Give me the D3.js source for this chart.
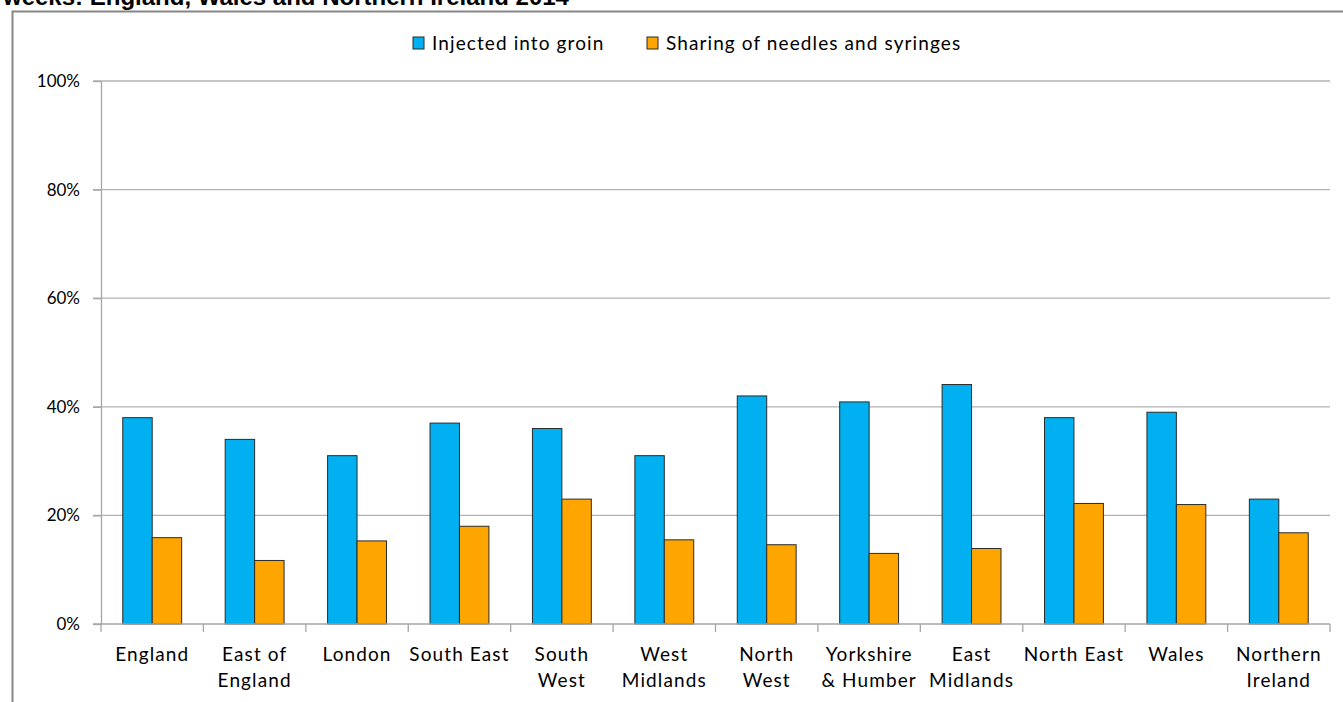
<!DOCTYPE html>
<html>
<head>
<meta charset="utf-8">
<script src="https://cdn.jsdelivr.net/npm/d3@7"></script>
<style>
  html, body { margin: 0; padding: 0; background: #fff; }
  svg { display: block; }
  .tick text { font-family: Lato, "Open Sans", sans-serif; }
</style>
</head>
<body>
<div id="chart"></div>
<script>
// Region names (multi-line labels split with "\n")
const regions = [
  "England", "East of\nEngland", "London", "South East", "South\nWest",
  "West\nMidlands", "North\nWest", "Yorkshire\n& Humber", "East\nMidlands",
  "North East", "Wales", "Northern\nIreland"
];
// Percentages of people who inject drugs
const injectedIntoGroin = [38, 34, 31, 37, 36, 31, 42, 40.9, 44.1, 38, 39, 23];
const sharingNeedles   = [15.9, 11.7, 15.3, 18, 23, 15.5, 14.6, 13, 13.9, 22.2, 22, 16.8];
const seriesNames = ["Injected into groin", "Sharing of needles and syringes"];
const seriesColors = ["#00b0f0", "#ffa500"];
const yTicks = [0, 20, 40, 60, 80, 100];
const titleText = "weeks: England, Wales and Northern Ireland 2014";

const W = 1343, H = 702;
const margin = { left: 101, right: 13, top: 81, bottom: 78 };
const innerW = W - margin.left - margin.right;
const innerH = H - margin.top - margin.bottom;

const labelFont = "Lato, 'Open Sans', sans-serif";

const svg = d3.select("#chart").append("svg")
  .attr("width", W).attr("height", H);

// Title (runs off the top edge) and chart frame
svg.append("text")
  .attr("x", 3).attr("y", 4.5)
  .attr("font-family", "Liberation Sans, Arial, sans-serif")
  .attr("font-weight", "bold").attr("font-size", 24)
  .attr("fill", "#000")
  .text(titleText);

svg.append("rect")
  .attr("x", 12.5).attr("y", 11.5)
  .attr("width", 1340).attr("height", 720)
  .attr("fill", "none").attr("stroke", "#868686").attr("stroke-width", 2);

const g = svg.append("g").attr("transform", `translate(${margin.left},${margin.top})`);

const data = regions.map((r, i) => ({
  region: r,
  values: [injectedIntoGroin[i], sharingNeedles[i]]
}));

const x0 = d3.scaleBand()
  .domain(regions)
  .range([0, innerW])
  .paddingInner(0.425)
  .paddingOuter(0.2125);

const x1 = d3.scaleBand()
  .domain([0, 1])
  .range([0, x0.bandwidth()]);

const y = d3.scaleLinear().domain([0, 100]).range([innerH, 0]);

// Horizontal gridlines
g.append("g")
  .selectAll("line")
  .data(yTicks.filter(t => t > 0))
  .join("line")
  .attr("x1", -8).attr("x2", innerW)
  .attr("y1", d => y(d)).attr("y2", d => y(d))
  .attr("stroke", "#b3b3b3").attr("stroke-width", 1.3);

// Y axis
const yAxis = g.append("g")
  .call(d3.axisLeft(y).tickValues(yTicks).tickFormat(d => d + "%").tickSize(8).tickSizeOuter(0));
yAxis.select(".domain").attr("stroke", "#a6a6a6").attr("stroke-width", 1.3);
yAxis.selectAll(".tick line").attr("stroke", "#a6a6a6").attr("stroke-width", 1.3);
yAxis.selectAll(".tick text")
  .attr("font-size", 17).attr("fill", "#000").attr("x", -21);

// Bars
const groups = g.append("g")
  .selectAll("g")
  .data(data)
  .join("g")
  .attr("transform", d => `translate(${x0(d.region)},0)`);

groups.selectAll("rect")
  .data(d => d.values.map((v, k) => ({ v, k })))
  .join("rect")
  .attr("x", d => x1(d.k))
  .attr("y", d => y(d.v))
  .attr("width", x1.bandwidth())
  .attr("height", d => innerH - y(d.v))
  .attr("fill", d => seriesColors[d.k])
  .attr("stroke", "#2b2b2b").attr("stroke-width", 1);

// X axis with category boundary ticks
const xAxisG = g.append("g").attr("transform", `translate(0,${innerH})`);
xAxisG.append("line")
  .attr("x1", -8).attr("x2", innerW)
  .attr("stroke", "#a6a6a6").attr("stroke-width", 1.3);
const step = x0.step();
const firstEdge = x0(regions[0]) - x0.paddingOuter() * step;
xAxisG.selectAll("line.sep")
  .data(d3.range(regions.length + 1))
  .join("line")
  .attr("class", "sep")
  .attr("x1", i => firstEdge + i * step)
  .attr("x2", i => firstEdge + i * step)
  .attr("y1", 0).attr("y2", 8)
  .attr("stroke", "#a6a6a6").attr("stroke-width", 1.3);

xAxisG.selectAll("text.cat")
  .data(regions)
  .join("text")
  .attr("class", "cat")
  .attr("transform", d => `translate(${x0(d) + x0.bandwidth() / 2},0)`)
  .attr("text-anchor", "middle")
  .attr("font-family", labelFont)
  .attr("font-size", 19)
  .attr("letter-spacing", 1.1)
  .attr("fill", "#000")
  .each(function (d) {
    const lines = d.split("\n");
    d3.select(this).selectAll("tspan")
      .data(lines)
      .join("tspan")
      .attr("x", 0)
      .attr("y", (l, i) => 37 + i * 26)
      .text(l => l);
  });

// Legend
const legendItems = [
  { name: seriesNames[0], color: seriesColors[0], x: 413 },
  { name: seriesNames[1], color: seriesColors[1], x: 647 }
];
const legend = svg.append("g");
legend.selectAll("rect")
  .data(legendItems)
  .join("rect")
  .attr("x", d => d.x).attr("y", 37)
  .attr("width", 11).attr("height", 12)
  .attr("fill", d => d.color)
  .attr("stroke", "#2b2b2b").attr("stroke-width", 1);
legend.selectAll("text")
  .data(legendItems)
  .join("text")
  .attr("x", d => d.x + 19).attr("y", 49.5)
  .attr("font-family", labelFont)
  .attr("font-size", 19)
  .attr("letter-spacing", 1.1)
  .attr("fill", "#000")
  .text(d => d.name);
</script>
</body>
</html>
